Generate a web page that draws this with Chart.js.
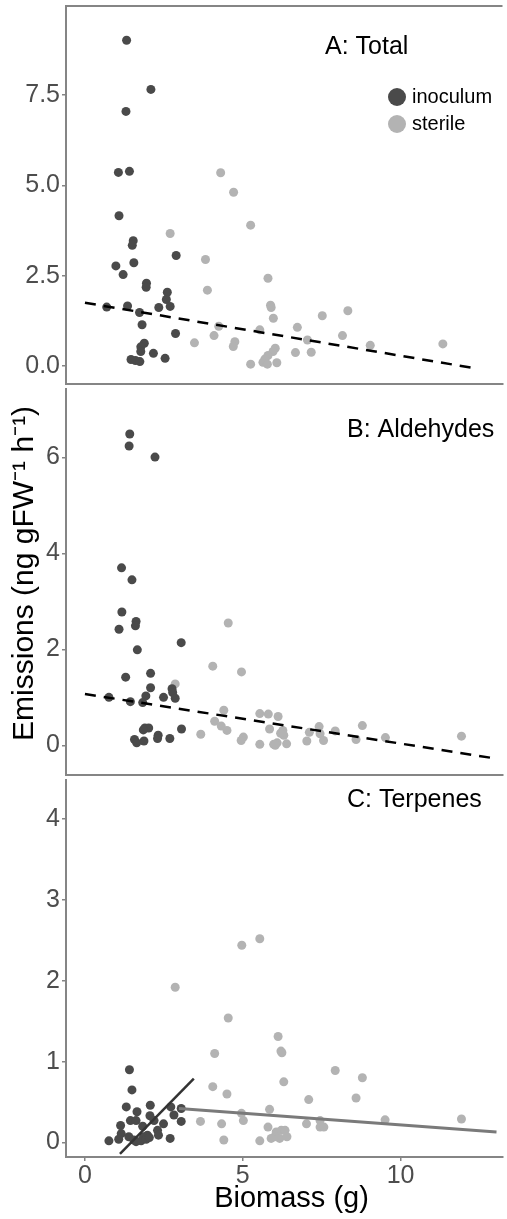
<!DOCTYPE html>
<html><head><meta charset="utf-8">
<script src="https://cdn.jsdelivr.net/npm/chart.js@4.4.1/dist/chart.umd.min.js"></script>
<style>
html,body{margin:0;padding:0;background:#fff;width:507px;height:1219px;overflow:hidden;}
.p{position:absolute;left:0;width:507px;}
</style></head><body>
<div class="p" style="top:0;height:390px"><canvas id="cA"></canvas></div>
<div class="p" style="top:384px;height:397px"><canvas id="cB"></canvas></div>
<div class="p" style="top:775px;height:444px"><canvas id="cC"></canvas></div>
<script>
// ---------- data ----------
const xTicks = [0, 5, 10];
const yTicksA = [0, 2.5, 5, 7.5];
const yTicksB = [0, 2, 4, 6];
const yTicksC = [0, 1, 2, 3, 4];

const aInocX = [1.32,2.09,1.30,1.06,1.41,1.08,1.53,1.50,2.89,0.98,1.55,1.21,1.95,1.94,2.61,2.58,0.69,1.35,1.73,2.34,2.70,1.81,2.87,1.88,1.77,1.77,2.17,2.54,1.46,1.60,1.74];
const aInocY = [9.02,7.66,7.05,5.36,5.39,4.16,3.47,3.34,3.06,2.77,2.86,2.53,2.29,2.18,2.04,1.84,1.63,1.66,1.48,1.62,1.65,1.14,0.90,0.63,0.53,0.40,0.35,0.21,0.18,0.15,0.12];
const aSterX = [4.30,4.71,5.25,2.70,3.82,5.80,3.88,5.88,5.90,8.33,7.52,5.97,4.24,6.73,5.54,4.09,7.05,8.16,3.47,4.75,4.70,9.04,11.34,6.03,5.96,5.80,5.70,5.64,5.78,5.25,6.08,6.67,7.17];
const aSterY = [5.35,4.81,3.90,3.67,2.95,2.43,2.10,1.68,1.62,1.53,1.39,1.32,1.10,1.07,1.00,0.84,0.72,0.84,0.64,0.67,0.54,0.57,0.61,0.49,0.40,0.29,0.19,0.10,0.05,0.05,0.09,0.37,0.38];
const aTrendX = [0, 12.4];
const aTrendY = [1.75, -0.07];

const bInocX = [1.42,1.40,2.22,1.16,1.49,1.17,1.08,1.62,1.60,3.05,1.66,1.29,2.08,2.08,2.76,2.78,1.93,2.49,2.86,0.76,1.44,1.83,1.90,2.02,1.85,3.06,2.32,2.30,2.69,1.57,1.64,1.87];
const bInocY = [6.49,6.24,6.01,3.70,3.45,2.78,2.42,2.58,2.49,2.14,1.99,1.42,1.50,1.20,1.18,1.10,1.03,1.00,0.98,1.00,0.91,0.89,0.36,0.36,0.32,0.34,0.21,0.14,0.14,0.12,0.05,0.09];
const bSterX = [4.54,4.05,4.96,2.86,4.40,4.11,4.32,4.50,5.54,5.81,6.12,5.85,6.27,6.30,7.42,8.79,7.93,7.11,7.45,9.52,8.59,11.93,7.56,7.03,3.67,5.02,4.95,5.54,5.98,6.09,6.39,6.03,6.20];
const bSterY = [2.55,1.65,1.53,1.28,0.73,0.50,0.40,0.31,0.66,0.65,0.60,0.34,0.31,0.21,0.39,0.41,0.30,0.27,0.24,0.16,0.12,0.19,0.10,0.09,0.23,0.17,0.10,0.02,0.02,0.05,0.03,0.00,0.25];
const bTrendX = [0, 13.0];
const bTrendY = [1.07, -0.275];

const cInocX = [1.41,1.49,1.31,1.65,2.07,2.72,3.05,2.82,3.05,2.06,1.44,1.62,2.19,2.49,1.13,1.83,1.15,2.30,2.33,1.98,1.39,1.86,2.70,1.07,0.76,1.62,1.78,1.94,2.04,1.55];
const cInocY = [0.90,0.65,0.44,0.38,0.46,0.44,0.42,0.34,0.26,0.33,0.27,0.27,0.27,0.23,0.21,0.20,0.11,0.15,0.09,0.09,0.07,0.07,0.05,0.04,0.02,0.01,0.02,0.04,0.06,0.03];
const cSterX = [4.97,5.54,2.86,4.54,6.12,6.21,6.24,4.11,7.93,8.79,6.30,4.05,4.50,8.59,7.09,5.85,4.96,5.02,3.66,4.33,7.02,7.45,9.51,11.93,5.80,7.45,7.57,6.06,6.22,6.34,6.01,6.17,6.40,4.40,5.54,5.90];
const cSterY = [2.44,2.52,1.92,1.54,1.31,1.13,1.11,1.10,0.89,0.80,0.75,0.69,0.60,0.55,0.53,0.41,0.36,0.27,0.26,0.23,0.23,0.27,0.28,0.29,0.19,0.19,0.19,0.13,0.15,0.15,0.07,0.05,0.07,0.03,0.02,0.05];
const cInocTrendX = [1.11, 3.45];
const cInocTrendY = [-0.14, 0.79];
const cSterTrendX = [2.98, 13.04];
const cSterTrendY = [0.42, 0.13];

// ---------- styles ----------
const FONT = "'Liberation Sans', Arial, Helvetica, sans-serif";
const AXIS = '#858585';
const TICKC = '#4d4d4d';
const DARK = '#4a4a4a';
const LIGHT = '#b3b3b3';

function xy(xs, ys) { return xs.map((x, i) => ({x: x, y: ys[i]})); }

const decor = {
  id: 'decor',
  afterDraw(chart, args, o) {
    const ctx = chart.ctx, ca = chart.chartArea;
    ctx.save();
    if (o.topBorder) {
      ctx.strokeStyle = AXIS; ctx.lineWidth = 2;
      ctx.beginPath(); ctx.moveTo(ca.left - 1, ca.top); ctx.lineTo(ca.right, ca.top); ctx.stroke();
    }
    if (o.label) {
      ctx.font = '25px ' + FONT; ctx.fillStyle = '#000';
      ctx.textAlign = 'left'; ctx.textBaseline = 'alphabetic';
      ctx.fillText(o.label, o.lx, o.ly);
    }
    if (o.legend) {
      const items = chart.data.datasets.filter(d => d.label);
      items.forEach((d, i) => {
        const cy = o.legend.y + i * o.legend.dy;
        ctx.fillStyle = d.backgroundColor;
        ctx.beginPath(); ctx.arc(o.legend.x, cy, 9, 0, Math.PI * 2); ctx.fill();
        ctx.fillStyle = '#000'; ctx.font = '20px ' + FONT;
        ctx.textAlign = 'left'; ctx.textBaseline = 'alphabetic';
        ctx.fillText(d.label, o.legend.x + 15, cy + 6);
      });
    }
    ctx.restore();
  }
};

function noPad(s) { s.paddingTop = 0; s.paddingBottom = 0; s.paddingLeft = 0; s.paddingRight = 0; }

function yScale(min, max, ticks, dec, title) {
  return {
    type: 'linear', position: 'left', min: min, max: max,
    afterBuildTicks: s => { s.ticks = ticks.map(v => ({value: v})); },
    afterFit: s => { s.width = 66; noPad(s); },
    grid: {display: true, drawOnChartArea: false, drawTicks: true, tickLength: 4, color: AXIS, lineWidth: 1.5},
    border: {display: true, color: AXIS, width: 2},
    ticks: {font: {family: FONT, size: 25}, color: TICKC, padding: 2,
            callback: v => Number(v).toFixed(dec)},
    title: title || {display: false}
  };
}
function xScale(show) {
  return {
    type: 'linear', position: 'bottom', min: -0.6, max: 13.23,
    afterBuildTicks: s => { s.ticks = xTicks.map(v => ({value: v})); },
    afterFit: s => { s.height = show ? 62 : 6; noPad(s); },
    grid: {display: show, drawOnChartArea: false, drawTicks: true, tickLength: 4, color: AXIS, lineWidth: 1.5},
    border: {display: true, color: AXIS, width: 2},
    ticks: {display: show, font: {family: FONT, size: 25}, color: TICKC, padding: 0, maxRotation: 0},
    title: show ? {display: true, text: '\u2002Biomass (g)', font: {family: FONT, size: 29}, color: '#000', padding: {top: 0, bottom: 3}} : {display: false}
  };
}
function pts(label, data, color) {
  return {label: label, data: data, backgroundColor: color, borderWidth: 0, pointRadius: 4.5, pointHoverRadius: 4.5};
}
function line(data, color, width, dash) {
  return {data: data, showLine: true, borderColor: color, borderWidth: width, borderDash: dash || [], pointRadius: 0, pointHoverRadius: 0, fill: false, borderCapStyle: 'butt'};
}
function make(id, datasets, yS, xS, padTop, decorOpts) {
  return new Chart(document.getElementById(id), {
    type: 'scatter',
    data: {datasets: datasets},
    options: {
      responsive: true, maintainAspectRatio: false, animation: false, events: [],
      layout: {padding: {top: padTop, left: 0, right: 0, bottom: 0}},
      scales: {x: xS, y: yS},
      plugins: {legend: {display: false}, tooltip: {enabled: false}, decor: decorOpts}
    },
    plugins: [decor]
  });
}

make('cA', [
  line(xy(aTrendX, aTrendY), '#000', 2.5, [11, 8]),
  pts('inoculum', xy(aInocX, aInocY), DARK),
  pts('sterile', xy(aSterX, aSterY), LIGHT)
], yScale(-0.5, 9.97, yTicksA, 1), xScale(false), 6,
  {topBorder: true, label: 'A: Total', lx: 325, ly: 53.5, legend: {x: 397, y: 97, dy: 27}});

make('cB', [
  line(xy(bTrendX, bTrendY), '#000', 2.5, [11, 8]),
  pts(null, xy(bInocX, bInocY), DARK),
  pts(null, xy(bSterX, bSterY), LIGHT)
], yScale(-0.62, 7.44, yTicksB, 0, {display: true, text: '  Emissions (ng gFW\u207B\u00B9 h\u207B\u00B9)', font: {family: FONT, size: 30}, color: '#000', padding: {top: 7, bottom: 0}}),
  xScale(false), 0, {label: 'B: Aldehydes', lx: 347, ly: 53});

make('cC', [
  line(xy(cInocTrendX, cInocTrendY), '#333333', 2.5),
  line(xy(cSterTrendX, cSterTrendY), '#7a7a7a', 3),
  pts(null, xy(cInocX, cInocY), DARK),
  pts(null, xy(cSterX, cSterY), LIGHT)
], yScale(-0.18, 4.49, yTicksC, 0), xScale(true), 0, {label: 'C: Terpenes', lx: 347, ly: 32});
</script>
</body></html>
